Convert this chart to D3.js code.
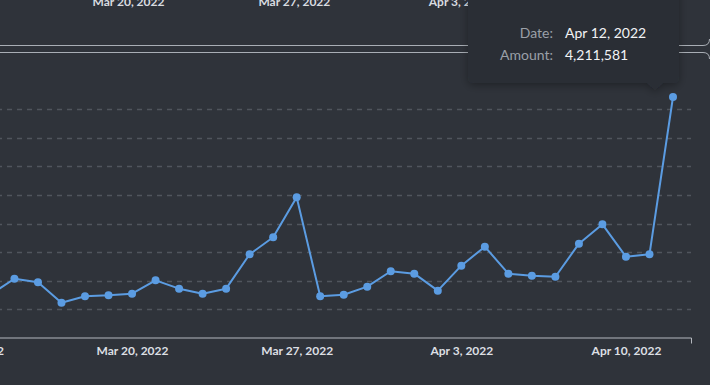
<html>
<head>
<script src="https://d3js.org/d3.v7.min.js"></script>
<style>
body { margin: 0; background-color: #2f333a; overflow: hidden; }
svg { display: block; font-family: Lato, "Noto Sans", sans-serif; }
</style>
</head>
<body>
<svg id="chart"></svg>
<script>
// daily amounts, Mar 14 - Apr 12 2022
const dates = ["2022-03-14","2022-03-15","2022-03-16","2022-03-17","2022-03-18","2022-03-19","2022-03-20",
  "2022-03-21","2022-03-22","2022-03-23","2022-03-24","2022-03-25","2022-03-26","2022-03-27",
  "2022-03-28","2022-03-29","2022-03-30","2022-03-31","2022-04-01","2022-04-02","2022-04-03",
  "2022-04-04","2022-04-05","2022-04-06","2022-04-07","2022-04-08","2022-04-09","2022-04-10",
  "2022-04-11","2022-04-12"];
const amounts = [765000, 1036000, 973000, 617000, 729000, 746000, 774000,
  1008000, 862000, 774000, 862000, 1463000, 1760000, 2459000,
  729000, 757000, 897000, 1166000, 1124000, 827000, 1264000,
  1596000, 1124000, 1089000, 1071000, 1648000, 1987000, 1421000,
  1463000, 4211581];
const xTicks = ["2022-03-13","2022-03-20","2022-03-27","2022-04-03","2022-04-10"];
const yTicks = [500000, 1000000, 1500000, 2000000, 2500000, 3000000, 3500000, 4000000];
const tipDate = "2022-04-12";
const tipAmount = 4211581;

const W = 710, H = 385;
const parse = d3.utcParse("%Y-%m-%d");
const fmtDate = d3.utcFormat("%b %-d, %Y");
const data = dates.map((d, i) => ({date: parse(d), value: amounts[i]}));

const svg = d3.select("#chart").attr("width", W).attr("height", H);
svg.append("rect").attr("width", W).attr("height", H).attr("fill", "#2f333a");

// tail of the card above: its x labels
var xTop = d3.scaleUtc()
  .domain([parse("2022-03-20"), parse("2022-04-10")])
  .range([128.5, 626]);
svg.append("g").selectAll("text")
  .data(xTicks.map(parse))
  .join("text")
  .attr("x", d => xTop(d))
  .attr("y", 5.5)
  .attr("text-anchor", "middle")
  .attr("fill", "#d9dce0")
  .style("font-size", "12px")
  .style("font-weight", "700")
  .text(d => fmtDate(d));

// card borders
svg.append("path")
  .attr("d", "M-5,45.5H703Q709.5,45.5 709.5,39")
  .attr("fill", "none").attr("stroke", "#a9aeb5");
svg.append("path")
  .attr("d", "M-5,52.5H703Q709.5,52.5 709.5,59")
  .attr("fill", "none").attr("stroke", "#a9aeb5");

// scales
var x = d3.scaleUtc()
  .domain([parse("2022-03-13"), new Date(Date.UTC(2022, 3, 12, 18, 22))])
  .range([-32.6, 691]);
var y = d3.scaleLinear()
  .domain([0, 4500000])
  .range([338, 80.5]);

// grid
svg.append("g").selectAll("line")
  .data(yTicks)
  .join("line")
  .attr("x1", -3).attr("x2", 691)
  .attr("y1", d => Math.round(y(d)) + 0.5)
  .attr("y2", d => Math.round(y(d)) + 0.5)
  .attr("stroke", "#50555d")
  .attr("stroke-width", 1.5)
  .attr("stroke-dasharray", "5,5");

// x axis
var xAxis = svg.append("g")
  .attr("transform", "translate(0,337.5)")
  .call(d3.axisBottom(x)
    .tickValues(xTicks.map(parse))
    .tickFormat(fmtDate)
    .tickSizeInner(0)
    .tickSizeOuter(6)
    .tickPadding(9));
xAxis.select(".domain").attr("stroke", "#b4b8be");
xAxis.selectAll("text")
  .attr("fill", "#dcdfe3")
  .style("font-family", "Lato, 'Noto Sans', sans-serif")
  .style("font-size", "12px")
  .style("font-weight", "700");

// series
var line = d3.line()
  .x(d => x(d.date))
  .y(d => y(d.value));
svg.append("path")
  .datum(data)
  .attr("d", line)
  .attr("fill", "none")
  .attr("stroke", "#5b9ce2")
  .attr("stroke-width", 2)
  .attr("stroke-linejoin", "round");
svg.append("g").selectAll("circle")
  .data(data)
  .join("circle")
  .attr("cx", d => x(d.date))
  .attr("cy", d => y(d.value))
  .attr("r", 4)
  .attr("fill", "#5b9ce2");

// tooltip
var defs = svg.append("defs");
defs.append("filter").attr("id", "shadow")
  .attr("x", "-20%").attr("y", "-20%").attr("width", "140%").attr("height", "150%")
  .append("feDropShadow")
  .attr("dx", 0).attr("dy", 2).attr("stdDeviation", 4)
  .attr("flood-color", "#000").attr("flood-opacity", 0.35);

var tip = svg.append("g").attr("filter", "url(#shadow)");
tip.append("path")
  .attr("d", "M474,-12H673Q679,-12 679,-6V77Q679,83 673,83H663L655,90L647,83H474Q468,83 468,77V-6Q468,-12 474,-12Z")
  .attr("fill", "#2b2f36");

var tipText = svg.append("g").style("font-size", "14px");
tipText.append("text").attr("x", 553).attr("y", 38)
  .attr("text-anchor", "end").attr("fill", "#9ba0a8").text("Date:");
tipText.append("text").attr("x", 553).attr("y", 60)
  .attr("text-anchor", "end").attr("fill", "#9ba0a8").text("Amount:");
tipText.append("text").attr("x", 565).attr("y", 38)
  .attr("fill", "#f2f3f5").text(fmtDate(parse(tipDate)));
tipText.append("text").attr("x", 565).attr("y", 60)
  .attr("fill", "#f2f3f5").text(d3.format(",")(tipAmount));
</script>
</body>
</html>
